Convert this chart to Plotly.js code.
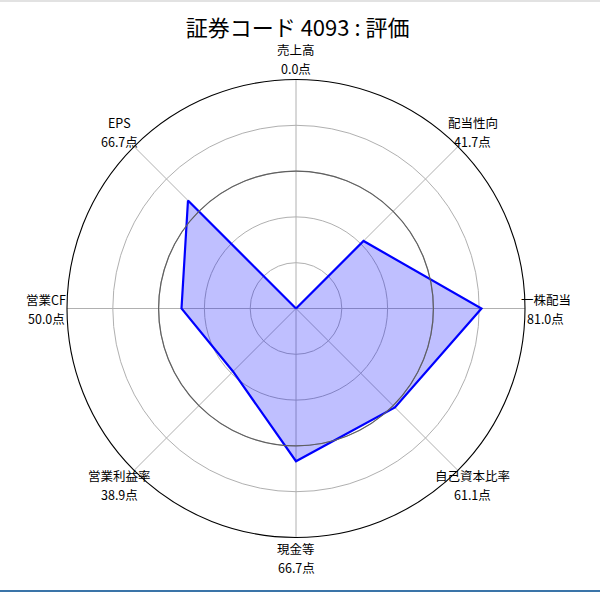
<!DOCTYPE html>
<html>
<head>
<meta charset="utf-8">
<script src="https://cdn.plot.ly/plotly-3.0.1.min.js"></script>
<style>
  html, body { margin: 0; padding: 0; background: #fff; }
  #chart { width: 600px; height: 592px; }
</style>
</head>
<body>
<div id="chart"></div>
<script>
// ---- データ ----
const categories = ['売上高', '配当性向', '一株配当', '自己資本比率', '現金等', '営業利益率', '営業CF', 'EPS'];
const scores = [0.0, 41.7, 81.0, 61.1, 66.7, 38.9, 50.0, 66.7];
const gridTicks = [20, 40, 60, 80];
const thresholdTick = [60];
const chartTitle = '証券コード 4093 : 評価';

// ---- レイアウト定数 ----
const W = 600, H = 592;
const domainX = [67 / W, 525 / W];
const domainY = [(H - 537.5) / H, (H - 79.5) / H];
const FONT = '"Noto Sans CJK JP", "Noto Sans", sans-serif';

// 閉じた多角形
const rClosed = scores.concat([scores[0]]);
const thetaClosed = categories.concat([categories[0]]);

const radar = {
  type: 'scatterpolar',
  r: rClosed,
  theta: thetaClosed,
  mode: 'lines',
  fill: 'toself',
  fillcolor: 'rgba(0, 0, 255, 0.25)',
  line: { color: '#0000ff', width: 2.2 },
  hoverinfo: 'skip',
  subplot: 'polar'
};

// 60点の線 (濃い円) 用のダミー
const ring = {
  type: 'scatterpolar',
  r: [],
  theta: [],
  mode: 'lines',
  hoverinfo: 'skip',
  subplot: 'polar2'
};

// ラベル (カテゴリ名 + 点数) を角度から配置
const cx = (domainX[0] + domainX[1]) / 2;
const cy = (domainY[0] + domainY[1]) / 2;
const Rpx = (domainX[1] - domainX[0]) * W / 2;
const labelR = Rpx * 1.09;
const lineGap = 9.5;

const annotations = [];
categories.forEach((cat, i) => {
  const ang = (i / categories.length) * 2 * Math.PI;
  const x = cx + labelR * Math.sin(ang) / W;
  const y = cy + labelR * Math.cos(ang) / H;
  [[cat, lineGap], [scores[i].toFixed(1) + '点', -lineGap]].forEach(([txt, dy]) => {
    annotations.push({
      xref: 'paper', yref: 'paper',
      x: x, y: y + dy / H,
      xanchor: 'center', yanchor: 'middle',
      text: txt,
      showarrow: false,
      borderpad: 0,
      font: { family: FONT, size: 12.5, color: '#000' }
    });
  });
});

const hiddenAngular = {
  type: 'category',
  categoryarray: categories,
  direction: 'clockwise',
  rotation: 90,
  visible: false
};

const layout = {
  width: W,
  height: H,
  paper_bgcolor: '#fff',
  margin: { l: 0, r: 0, t: 0, b: 0 },
  showlegend: false,
  title: {
    text: chartTitle,
    x: 0.496, xanchor: 'center',
    y: 1 - 28 / H, yanchor: 'middle',
    font: { family: FONT, size: 22, color: '#000' }
  },
  polar: {
    domain: { x: domainX, y: domainY },
    bgcolor: 'rgba(0,0,0,0)',
    angularaxis: {
      type: 'category',
      categoryarray: categories,
      direction: 'clockwise',
      rotation: 90,
      showticklabels: false,
      ticks: '',
      showline: true,
      linecolor: '#000',
      linewidth: 1.1,
      gridcolor: '#b0b0b0',
      gridwidth: 1
    },
    radialaxis: {
      range: [0, 100],
      tickvals: gridTicks,
      showticklabels: false,
      ticks: '',
      showline: false,
      gridcolor: '#b0b0b0',
      gridwidth: 1
    }
  },
  polar2: {
    domain: { x: domainX, y: domainY },
    bgcolor: 'rgba(0,0,0,0)',
    angularaxis: hiddenAngular,
    radialaxis: {
      range: [0, 100],
      tickvals: thresholdTick,
      showticklabels: false,
      ticks: '',
      showline: false,
      gridcolor: '#606060',
      gridwidth: 1.2
    }
  },
  annotations: annotations,
  shapes: [
    { type: 'line', xref: 'paper', yref: 'paper', x0: 0, x1: 1, y0: 1 - 1 / H, y1: 1 - 1 / H,
      line: { color: '#e2e2e2', width: 2 } },
    { type: 'line', xref: 'paper', yref: 'paper', x0: 0, x1: 1, y0: 1 / H, y1: 1 / H,
      line: { color: '#3a74a8', width: 2 } }
  ]
};

Plotly.newPlot('chart', [radar, ring], layout, { displayModeBar: false, staticPlot: true });
</script>
</body>
</html>
